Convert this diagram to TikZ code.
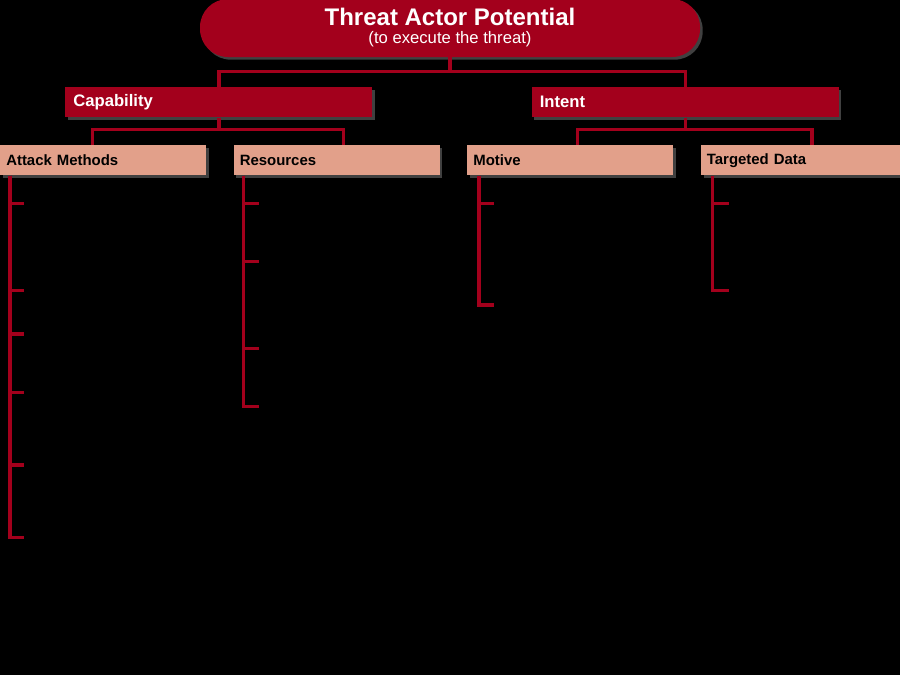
\documentclass[tikz,border=0pt]{standalone}
\usepackage{fontspec}
\setmainfont{Liberation Sans}
\usetikzlibrary{positioning,shadows}
\definecolor{threatred}{RGB}{163,0,28}
\definecolor{salmon}{RGB}{226,160,138}
\tikzset{
	potential/.style={x=0.75pt,y=-0.75pt,node distance=20.25pt},
	boxshadow/.style={drop shadow={shadow xshift=2pt,shadow yshift=-2pt,fill=black!75,opacity=1}},
	rootbox/.style={fill=threatred,text=white,rounded corners=21pt,minimum width=375pt,
		minimum height=43.5pt,align=center,font=\fontsize{12.5}{13.5}\selectfont,boxshadow},
	factor/.style={fill=threatred,text=white,text width=218.25pt,inner xsep=6pt,minimum height=22.5pt,
		align=left,font=\bfseries\fontsize{12.5}{14}\selectfont,boxshadow},
	groupbox/.style={fill=salmon,text=black,text width=145.5pt,inner xsep=4.5pt,minimum height=22.5pt,
		align=left,font=\bfseries\fontsize{11.2}{13}\selectfont,boxshadow},
	entry/.style={inner sep=0pt,align=left,text=black,font=\fontsize{9.6}{10.8}\selectfont},
	link/.style={draw=threatred,line width=2.6pt}
}

\begin{document}
\begin{tikzpicture}[potential]
	\fill[black] (0,0) rectangle (900,675);
	\useasboundingbox (0,0) rectangle (900,675);
	
	\node[rootbox] (root) at (450,28) {{\fontsize{18}{13.5}\selectfont\bfseries Threat Actor Potential}\\(to execute the threat)};
	\node[factor,anchor=north west] (cap) at (65,87) {Capability};
	\node[factor] (intent) [right=119.25pt of cap] {Intent};
	
	\node[groupbox,anchor=north west] (am) at (0,145) {Attack Methods};
	\node[groupbox] (res) [right=of am] {Resources};
	\node[groupbox] (mot) [right=of res] {Motive};
	\node[groupbox] (tdata) [right=of mot] {Targeted Data};
	
	% attack methods
	\node[entry] (am1) [below=17pt of am.south west,xshift=18pt,anchor=north west] {\strut\textbf{Infrastructure}\\Physical and cyber resources\\(for example—hardware,\\software, networks, and\\cloud)\strut};
	\node[entry] (am2) [below=10.8pt of am1.south west,anchor=north west] {\strut\textbf{Technology}\\Malware, exploits, and toolkits used\strut};
	\node[entry] (am3) [below=10.8pt of am2.south west,anchor=north west] {\strut\textbf{Coding}\\Languages and personal\\proficiencies\strut};
	\node[entry] (am4) [below=10.8pt of am3.south west,anchor=north west] {\strut\textbf{Planning}\\Scope and depth of planning\\process and pre/post-threat\\activities\strut};
	\node[entry] (am5) [below=10.8pt of am4.south west,anchor=north west] {\strut\textbf{Targets}\\General or specific—mass\\phishing data or exploiting a\\specific vulnerability\strut};
	\node[entry] (am6) [below=10.8pt of am5.south west,anchor=north west] {\strut\textbf{Timing}\\Minutes, days, or years to act\\on the cyber threat\strut};
	
	% resources
	\node[entry] (res1) [below=17pt of res.south west,xshift=18.75pt,anchor=north west] {\strut\textbf{Capital}\\For personnel, tools, training,\\and so on\strut};
	\node[entry] (res2) [below=10.8pt of res1.south west,anchor=north west] {\strut\textbf{People}\\Number and type of people\\involved—for example,\\outsiders or malicious\\insiders\strut};
	\node[entry] (res3) [below=10.8pt of res2.south west,anchor=north west] {\strut\textbf{Tools}\\Open source and/or custom\\software\strut};
	\node[entry] (res4) [below=10.8pt of res3.south west,anchor=north west] {\strut\textbf{Training}\\Breadth and quality\strut};
	
	% motive
	\node[entry] (mot1) [below=17pt of mot.south west,xshift=20.25pt,anchor=north west] {\strut\textbf{Intrinsic}\\Personal rewards for the threat\\actor—for example, status,\\financial gain, revenge,\\satisfy curiosity, ideology, or\\political beliefs\strut};
	\node[entry] (mot2) [below=10.8pt of mot1.south west,anchor=north west] {\strut\textbf{Extrinsic}\\External rewards to act on the\\threat—fame, money, or to avoid\\punishment\strut};
	
	% targeted data
	\node[entry] (td1) [below=17pt of tdata.south west,xshift=21pt,anchor=north west] {\strut\textbf{Personally Identifiable}\\\textbf{Information (PII)}\\Names, addresses, social\\security numbers, or\\identities\strut};
	\node[entry] (td2) [below=10.8pt of td1.south west,anchor=north west] {\strut\textbf{Intellectual Property}\\Research and development\\information, business\\processes, and industrial\\control systems\strut};
	
	\draw[link] (root.south) -- ++(0,14) -| (cap.north);
	\draw[link] (root.south) -- ++(0,14) -| (intent.north);
	\draw[link] (cap.south) -- ++(0,12) -| ([xshift=-8.25pt]am.north);
	\draw[link] (cap.south) -- ++(0,12) -| ([xshift=4.9pt]res.north);
	\draw[link] (intent.south) -- ++(0,12) -| ([xshift=5.25pt]mot.north);
	\draw[link] (intent.south) -- ++(0,12) -| ([xshift=6pt]tdata.north);
	
	\draw[link] ([xshift=7.5pt]am.south west) |- ([yshift=-4pt]am1.north west);
	\draw[link] ([xshift=7.5pt]am.south west) |- ([yshift=-4pt]am2.north west);
	\draw[link] ([xshift=7.5pt]am.south west) |- ([yshift=-4pt]am3.north west);
	\draw[link] ([xshift=7.5pt]am.south west) |- ([yshift=-4pt]am4.north west);
	\draw[link] ([xshift=7.5pt]am.south west) |- ([yshift=-4pt]am5.north west);
	\draw[link] ([xshift=7.5pt]am.south west) |- ([yshift=-4pt]am6.north west);
	\draw[link] ([xshift=7.5pt]res.south west) |- ([yshift=-4pt]res1.north west);
	\draw[link] ([xshift=7.5pt]res.south west) |- ([yshift=-4pt]res2.north west);
	\draw[link] ([xshift=7.5pt]res.south west) |- ([yshift=-4pt]res3.north west);
	\draw[link] ([xshift=7.5pt]res.south west) |- ([yshift=-4pt]res4.north west);
	\draw[link] ([xshift=9pt]mot.south west) |- ([yshift=-4pt]mot1.north west);
	\draw[link] ([xshift=9pt]mot.south west) |- ([yshift=-4pt]mot2.north west);
	\draw[link] ([xshift=9pt]tdata.south west) |- ([yshift=-4pt]td1.north west);
	\draw[link] ([xshift=9pt]tdata.south west) |- ([yshift=-4pt]td2.north west);
\end{tikzpicture}
\end{document}
